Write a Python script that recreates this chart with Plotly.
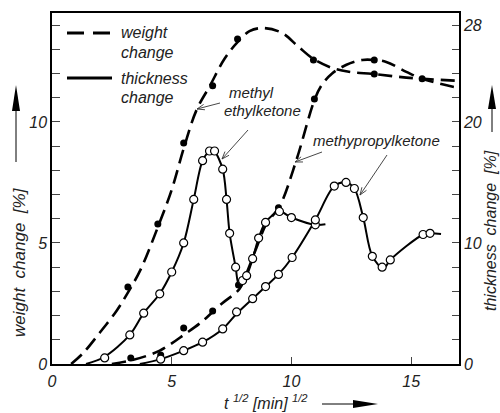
import math
import plotly.graph_objects as go

# ---------------- data ----------------
# weight change [%] (left axis) - methyl ethyl ketone
mek_w_pts_x = [3.17, 4.42, 5.5, 6.71, 7.75, 10.92, 13.46, 15.46]
mek_w_pts_y = [3.18, 5.78, 9.13, 11.49, 13.43, 12.56, 11.98, 11.78]
mek_w_curve_x = [0.8, 1.3, 2.0, 2.7, 3.2, 3.7, 4.4, 5.0, 5.5, 6.04, 6.6, 7.2, 7.75, 8.25, 8.8,
                 9.6, 10.3, 10.92, 11.7, 12.4, 13.46, 14.5, 15.46, 17.0]
mek_w_curve_y = [0, 0.45, 1.3, 2.2, 3.0, 3.9, 5.6, 7.2, 8.9, 10.5, 11.5, 12.6, 13.3, 13.75, 13.88,
                 13.68, 13.1, 12.6, 12.23, 12.07, 11.98, 11.86, 11.78, 11.7]

# weight change [%] (left axis) - methyl propyl ketone
mpk_w_pts_x = [3.29, 4.54, 5.5, 6.71, 7.79, 9.46, 10.96, 13.46]
mpk_w_pts_y = [0.25, 0.37, 1.49, 2.19, 3.26, 6.45, 10.95, 12.56]
mpk_w_curve_x = [2.5, 3.3, 4.0, 4.5, 5.0, 5.5, 6.2, 7.1, 7.83, 8.13, 8.54, 8.96, 9.5, 10.2, 10.96,
                 11.25, 11.7, 12.3, 12.96, 13.46, 13.96, 14.8, 15.46, 17.0]
mpk_w_curve_y = [0, 0.15, 0.35, 0.55, 0.85, 1.2, 1.7, 2.5, 3.1, 3.76, 4.8, 5.8, 6.5, 8.4, 10.9,
                 11.5, 12.0, 12.36, 12.56, 12.56, 12.48, 12.07, 11.78, 11.4]

# thickness change [%] (right axis) - methyl ethyl ketone
mek_t_pts_x = [2.2, 3.25, 3.83, 4.5, 5.0, 5.5, 5.92, 6.29, 6.58, 6.79, 7.13, 7.29, 7.42, 7.67,
               7.96, 8.13, 8.38, 8.63, 8.92, 9.5, 10.0, 11.0]
mek_t_pts_y = [0.5, 2.4, 4.2, 5.8, 7.6, 10.0, 13.6, 16.8, 17.6, 17.6, 16.1, 13.6, 10.8, 8.0,
               6.9, 7.3, 8.7, 10.4, 11.7, 12.6, 12.1, 11.5]
mek_t_curve_x = [1.42, 2.2, 3.25, 3.83, 4.5, 5.0, 5.5, 5.92, 6.29, 6.58, 6.7, 6.79, 7.13, 7.29,
                 7.42, 7.67, 7.8, 7.96, 8.13, 8.38, 8.63, 8.92, 9.5, 10.0, 11.0, 11.42]
mek_t_curve_y = [0, 0.6, 2.4, 4.2, 5.8, 7.6, 10.0, 13.6, 16.8, 17.6, 17.7, 17.6, 16.1, 13.6,
                 10.8, 8.0, 6.6, 6.9, 7.3, 8.7, 10.4, 11.7, 12.6, 12.1, 11.5, 11.55]

# thickness change [%] (right axis) - methyl propyl ketone
mpk_t_pts_x = [4.54, 5.5, 6.29, 7.13, 7.71, 8.38, 8.92, 9.46, 10.03, 11.0, 11.79, 12.28, 12.63,
               13.0, 13.38, 13.79, 14.13, 15.5, 15.79]
mpk_t_pts_y = [0.4, 1.1, 1.8, 2.9, 4.3, 5.4, 6.4, 7.4, 8.8, 11.9, 14.7, 15.0, 14.5,
               12.1, 8.9, 8.0, 8.6, 10.7, 10.8]
mpk_t_curve_x = [3.67, 4.54, 5.5, 6.29, 7.13, 7.71, 8.38, 8.92, 9.46, 10.03, 11.0, 11.79, 12.28,
                 12.63, 13.0, 13.38, 13.85, 14.13, 15.5, 15.79, 16.25]
mpk_t_curve_y = [0, 0.4, 1.1, 1.8, 2.9, 4.15, 5.4, 6.4, 7.4, 8.8, 11.9, 14.7, 15.0,
                 14.5, 12.1, 8.9, 7.9, 8.6, 10.7, 10.8, 10.75]

x_ticks = [0, 5, 10, 15]
y_ticks = list(range(0, 15))
y_labels = {0: "0", 5: "5", 10: "10"}
y2_ticks = list(range(0, 29, 2))
y2_labels = {0: "0", 10: "10", 20: "20", 28: "28"}

# ---------------- figure ----------------
W, H = 500, 413
L, R, T, B = 52, 41, 13, 49
FONT = "Liberation Sans"

def px(xp):
    return (xp - L) / (W - L - R)

def py(yp):
    return (H - B - yp) / (H - T - B)

fig = go.Figure()

DASH = "14px,7px"
for cx, cy in [(mek_w_curve_x, mek_w_curve_y), (mpk_w_curve_x, mpk_w_curve_y)]:
    fig.add_trace(go.Scatter(x=cx, y=cy, mode="lines", yaxis="y",
                             line=dict(color="black", width=2.6, dash=DASH, shape="spline", smoothing=1.0),
                             hoverinfo="skip", showlegend=False))
for cx, cy in [(mek_t_curve_x, mek_t_curve_y), (mpk_t_curve_x, mpk_t_curve_y)]:
    fig.add_trace(go.Scatter(x=cx, y=cy, mode="lines", yaxis="y2",
                             line=dict(color="black", width=2, shape="spline", smoothing=0.9),
                             hoverinfo="skip", showlegend=False))
for mx, my in [(mek_t_pts_x, mek_t_pts_y), (mpk_t_pts_x, mpk_t_pts_y)]:
    fig.add_trace(go.Scatter(x=mx, y=my, mode="markers", yaxis="y2",
                             marker=dict(size=8, color="white", line=dict(color="black", width=1.2)),
                             showlegend=False))
for mx, my in [(mek_w_pts_x, mek_w_pts_y), (mpk_w_pts_x, mpk_w_pts_y)]:
    fig.add_trace(go.Scatter(x=mx, y=my, mode="markers", yaxis="y",
                             marker=dict(size=7, color="black"),
                             showlegend=False))

tickfont = dict(family=FONT, size=16, color="#222", style="italic")
fig.update_layout(
    width=W, height=H,
    margin=dict(l=L, r=R, t=T, b=B),
    paper_bgcolor="white", plot_bgcolor="white",
    font=dict(family=FONT, size=15, color="#222", style="italic"),
    xaxis=dict(range=[0, 17], tickvals=x_ticks, ticks="inside", ticklen=7, tickwidth=1,
               showline=True, mirror=True, linecolor="black", linewidth=1.5,
               showgrid=False, zeroline=False, tickfont=tickfont, ticklabelstandoff=2),
    yaxis=dict(range=[0, 14.5], tickvals=y_ticks,
               ticktext=[y_labels.get(v, "") for v in y_ticks],
               ticks="inside", ticklen=8, tickwidth=1,
               showline=True, linecolor="black", linewidth=1.5,
               showgrid=False, zeroline=False, tickfont=tickfont),
    yaxis2=dict(range=[0, 29], tickvals=y2_ticks,
                ticktext=[y2_labels.get(v, "") for v in y2_ticks],
                overlaying="y", side="right",
                ticks="inside", ticklen=7, tickwidth=1,
                showline=True, linecolor="black", linewidth=1.5,
                showgrid=False, zeroline=False, tickfont=tickfont),
)

shapes = []
ann = []

# legend
shapes.append(dict(type="line", xref="paper", yref="paper", x0=px(67), x1=px(112), y0=py(33), y1=py(33),
                   line=dict(color="black", width=3, dash="17px,9px")))
shapes.append(dict(type="line", xref="paper", yref="paper", x0=px(67), x1=px(112), y0=py(78), y1=py(78),
                   line=dict(color="black", width=3)))
for txt, yp in [("weight", 33), ("change", 52), ("thickness", 78), ("change", 97)]:
    ann.append(dict(text=txt, xref="paper", yref="paper", x=px(119), y=py(yp), xanchor="left",
                    yanchor="middle", showarrow=False, font=dict(size=16)))

# curve labels
ann.append(dict(text="methyl", xref="paper", yref="paper", x=px(227), y=py(92), xanchor="left",
                yanchor="middle", showarrow=False, font=dict(size=15)))
ann.append(dict(text="ethylketone", xref="paper", yref="paper", x=px(222), y=py(110), xanchor="left",
                yanchor="middle", showarrow=False, font=dict(size=15)))
ann.append(dict(text="methypropylketone", xref="paper", yref="paper", x=px(376), y=py(140), xanchor="center",
                yanchor="middle", showarrow=False, font=dict(size=15)))

# pointer arrows from labels to curves (tail pixel -> tip pixel), drawn as shapes
pointer_px = [((220, 103), (197, 109)), ((248, 130), (222, 159)),
              ((322, 152), (295, 162)), ((387, 155), (360, 195))]
for (x0, y0), (x1, y1) in pointer_px:
    shapes.append(dict(type="line", xref="paper", yref="paper", x0=px(x0), y0=py(y0), x1=px(x1), y1=py(y1),
                       line=dict(color="#333", width=0.9)))
    ang = math.atan2(y0 - y1, x0 - x1)
    hl = 8
    pts = []
    for d in (-0.35, 0.35):
        pts.append((x1 + hl * math.cos(ang + d), y1 + hl * math.sin(ang + d)))
    path = (f"M {px(pts[0][0])} {py(pts[0][1])} L {px(x1)} {py(y1)} L {px(pts[1][0])} {py(pts[1][1])}")
    shapes.append(dict(type="path", xref="paper", yref="paper", path=path,
                       line=dict(color="#333", width=0.9)))

# axis titles
ann.append(dict(text="weight  change  [%]", xref="paper", yref="paper", x=px(19), y=py(262),
                textangle=-90, showarrow=False, font=dict(size=17), xanchor="center", yanchor="middle"))
ann.append(dict(text="thickness  change  [%]", xref="paper", yref="paper", x=px(490), y=py(230),
                textangle=-90, showarrow=False, font=dict(size=16), xanchor="center", yanchor="middle"))
ann.append(dict(text="t <sup>1/2</sup> [min] <sup>1/2</sup>", xref="paper", yref="paper", x=px(266), y=py(402),
                showarrow=False, font=dict(size=16), xanchor="center", yanchor="middle"))

# big axis arrows
def arrow_up(xp, y_tail, y_tip, head=26, half=4):
    shapes.append(dict(type="line", xref="paper", yref="paper", x0=px(xp), x1=px(xp),
                       y0=py(y_tail), y1=py(y_tip + head - 2), line=dict(color="black", width=1)))
    shapes.append(dict(type="path", xref="paper", yref="paper", fillcolor="black", line=dict(width=0),
                       path=f"M {px(xp)} {py(y_tip)} L {px(xp - half)} {py(y_tip + head)} L {px(xp + half)} {py(y_tip + head)} Z"))

arrow_up(16, 162, 85)
arrow_up(492, 132, 85, head=24)
# right-pointing arrow under x axis
shapes.append(dict(type="line", xref="paper", yref="paper", x0=px(322), x1=px(356), y0=py(404), y1=py(404),
                   line=dict(color="black", width=1)))
shapes.append(dict(type="path", xref="paper", yref="paper", fillcolor="black", line=dict(width=0),
                   path=f"M {px(378)} {py(404)} L {px(353)} {py(400)} L {px(353)} {py(408)} Z"))

fig.update_layout(shapes=shapes, annotations=ann)
fig.write_html("out.html")
